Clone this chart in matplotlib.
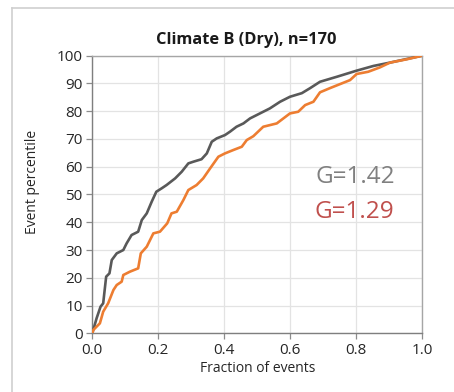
import matplotlib
matplotlib.use("Agg")
import matplotlib.pyplot as plt
from matplotlib.patches import Arc

# Lorenz-type curves
gray_x = [0, 0.013, 0.025, 0.033, 0.042, 0.052, 0.059, 0.074, 0.094, 0.104, 0.119, 0.139, 0.15, 0.165,
          0.18, 0.194, 0.21, 0.225, 0.251, 0.271, 0.291, 0.306, 0.331, 0.347, 0.362, 0.377, 0.402, 0.417,
          0.437, 0.458, 0.478, 0.508, 0.538, 0.569, 0.599, 0.635, 0.66, 0.69, 0.741, 0.801, 0.852, 0.902,
          0.953, 1.0]
gray_y = [0, 5.4, 9.6, 10.8, 20.4, 21.6, 26.4, 28.8, 30, 32.4, 35.4, 36.6, 40.8, 43.2,
          47.4, 51, 52.2, 53.4, 55.8, 58.2, 61.2, 61.8, 62.7, 64.8, 69, 70.2, 71.4, 72.6,
          74.4, 75.6, 77.4, 79.2, 81, 83.4, 85.2, 86.5, 88.3, 90.6, 92.4, 94.6, 96.3, 97.5,
          98.8, 100]
orange_x = [0, 0.003, 0.023, 0.033, 0.048, 0.064, 0.074, 0.089, 0.094, 0.114, 0.139, 0.147, 0.165,
            0.185, 0.205, 0.227, 0.24, 0.256, 0.276, 0.291, 0.316, 0.336, 0.357, 0.382, 0.402, 0.427,
            0.453, 0.468, 0.488, 0.518, 0.559, 0.599, 0.624, 0.645, 0.67, 0.69, 0.72, 0.781, 0.801,
            0.836, 0.872, 0.902, 0.953, 1.0]
orange_y = [0, 1.2, 3.6, 7.8, 10.8, 15.6, 17.4, 18.6, 21, 22.2, 23.4, 28.8, 31.2,
            36, 36.6, 39.6, 43.2, 43.8, 48, 51.6, 53.4, 55.8, 59.4, 63.6, 64.8, 66,
            67.2, 69.6, 71, 74.4, 75.6, 79.2, 79.8, 82.2, 83.4, 86.8, 88.3, 91.2, 93.4,
            94.2, 95.8, 97.5, 98.7, 100]

x_ticks = [0, 0.2, 0.4, 0.6, 0.8, 1.0]
y_ticks = list(range(0, 101, 10))
gini_labels = ["G=1.42", "G=1.29"]

plt.rcParams['font.family'] = ['Open Sans', 'DejaVu Sans']

fig = plt.figure(figsize=(4.54, 3.92), dpi=100)

# overlay in pixel units for the slide frame and the clipped title letter
bg = fig.add_axes([0, 0, 1, 1])
bg.set_xlim(0, 454)
bg.set_ylim(392, 0)
bg.axis("off")
bg.plot([12, 454], [7.5, 7.5], color='#cfcfcf', lw=1.2)
bg.plot([12, 12], [7.5, 392], color='#cfcfcf', lw=1.2)
bg.add_patch(Arc((344.5, -2), 13, 13, theta1=200, theta2=340, color='#1f5f8b', lw=2.6))

ax = fig.add_axes([0.2033, 0.1497, 0.7269, 0.7083])

ax.plot(gray_x, gray_y, color='#595959', lw=1.9, zorder=3)
ax.plot(orange_x, orange_y, color='#ED7D31', lw=1.9, zorder=3)

ax.set_xlim(0, 1)
ax.set_ylim(0, 100)
ax.set_xticks(x_ticks)
ax.set_xticklabels([f"{v:.1f}" for v in x_ticks])
ax.set_yticks(y_ticks)
ax.grid(True, color='#e3e3e3', lw=0.9, zorder=0)
ax.tick_params(direction='out', length=4, width=0.9, color='#8c8c8c', labelsize=11, labelcolor='#262626', pad=3)

for side in ['left', 'bottom']:
	ax.spines[side].set_color('#7f7f7f')
	ax.spines[side].set_linewidth(1.0)
for side in ['top', 'right']:
	ax.spines[side].set_color('#a6a6a6')
	ax.spines[side].set_linewidth(1.0)

ax.set_xlabel("Fraction of events", fontsize=10, color='#262626', labelpad=2)
fig.text(32 / 454, 1 - 182 / 392, "Event percentile", rotation=90, fontsize=10,
         color='#262626', ha='center', va='center')
fig.text(246 / 454, 1 - 40 / 392, "Climate B (Dry), n=170", fontsize=11.8, fontweight='bold',
         color='#1a1a1a', ha='center', va='center')

ax.text(0.675, 56.3, gini_labels[0], fontsize=17.5, color='#808080', va='center', ha='left')
ax.text(0.672, 43.8, gini_labels[1], fontsize=17.5, color='#C0504D', va='center', ha='left')

fig.savefig("out.png", dpi=100)
